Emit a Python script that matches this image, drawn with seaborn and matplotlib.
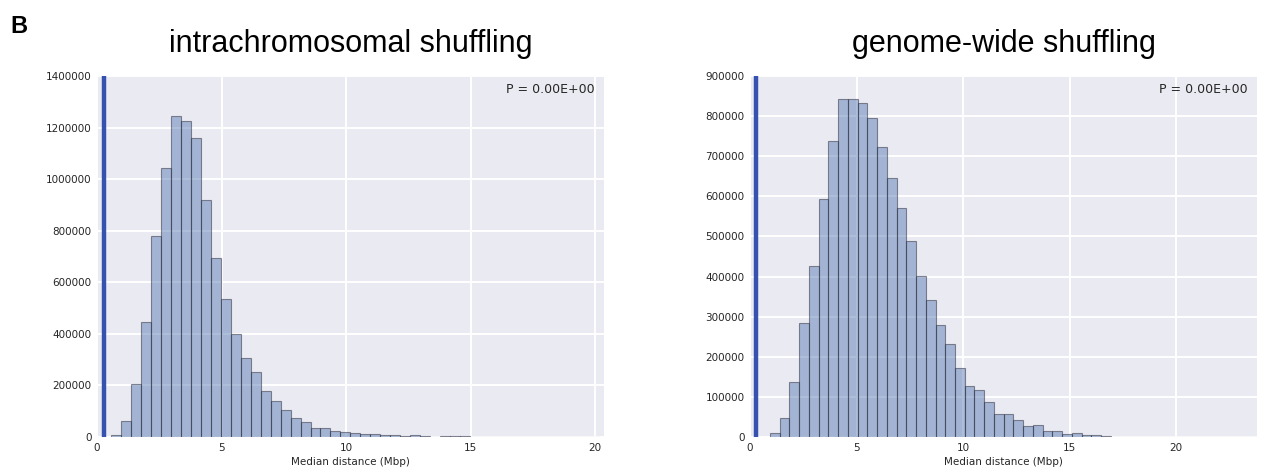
import numpy as np
import pandas as pd
import seaborn as sns
import matplotlib.pyplot as plt

# histogram counts (bins of equal width)
intra_counts = [7000, 61000, 206000, 446000, 781000, 1045000, 1243000, 1224000,
                1161000, 920000, 693000, 537000, 398000, 307000, 253000, 180000,
                141000, 104000, 75000, 57000, 35000, 35000, 23000, 19500,
                15600, 11700, 11700, 7800, 7800, 3900, 6500, 2600,
                1300, 3900, 2600, 4000, 1500, 1200, 1000, 900,
                800, 700, 600, 600, 500, 400, 400, 300, 300]
intra_start, intra_width = 0.57, 0.40

genome_counts = [10000, 47500, 137500, 283000, 427000, 594000, 737000, 842000,
                 842000, 833000, 795000, 723000, 646000, 572000, 487500, 402000,
                 342500, 280000, 231000, 171000, 128000, 116000, 88000, 57000,
                 57000, 41700, 26700, 29000, 15000, 15000, 7500, 10000,
                 5000, 4200, 1700, 800, 1200, 1000, 900, 700,
                 600, 500, 500, 400, 300, 300, 200, 200, 150, 100]
genome_start, genome_width = 0.94, 0.457

observed = [0.27, 0.27]
titles = ['intrachromosomal shuffling', 'genome-wide shuffling']
p_labels = ['P = 0.00E+00', 'P = 0.00E+00']
xlims = [(0, 20.35), (0, 23.8)]
ylims = [(0, 1400000), (0, 900000)]
yticks = [np.arange(0, 1400001, 200000), np.arange(0, 900001, 100000)]
xticks = [[0, 5, 10, 15, 20], [0, 5, 10, 15, 20]]

sns.set_style('darkgrid', {'axes.facecolor': '#EAEAF2', 'grid.color': 'white'})
plt.rcParams['font.family'] = 'DejaVu Sans'
plt.rcParams['xtick.color'] = '.15'
plt.rcParams['ytick.color'] = '.15'

fig = plt.figure(figsize=(12.65, 4.74), dpi=100)
W, H = 1265, 474
ax_l = fig.add_axes([97 / W, (H - 437) / H, 507 / W, 361 / H])
ax_r = fig.add_axes([750 / W, (H - 437) / H, 507 / W, 361 / H])

panels = [(ax_l, intra_counts, intra_start, intra_width),
          (ax_r, genome_counts, genome_start, genome_width)]

for i, (ax, counts, start, width) in enumerate(panels):
    edges = start + width * np.arange(len(counts) + 1)
    df = pd.DataFrame({'dist': (edges[:-1] + edges[1:]) / 2, 'n': counts})
    sns.histplot(data=df, x='dist', weights='n', bins=list(edges), ax=ax,
                 color='#4C72B0', alpha=0.45,
                 edgecolor=(0.15, 0.15, 0.2, 0.5), linewidth=0.8)
    ax.axvline(observed[i], color='#3652b0', lw=3.2)
    ax.set_xlim(*xlims[i])
    ax.set_ylim(*ylims[i])
    ax.set_yticks(yticks[i])
    ax.set_xticks(xticks[i])
    ax.ticklabel_format(axis='y', style='plain', useOffset=False)
    ax.tick_params(labelsize=7.5, length=0, pad=4)
    ax.grid(True, color='white', lw=1.4)
    ax.set_ylabel('')
    ax.set_xlabel('Median distance (Mbp)', fontsize=7.5, color='.15', labelpad=3)
    ax.set_title(titles[i], fontsize=22, family='Liberation Sans',
                 color='black', pad=17)
    ax.text(0.982, 0.962, p_labels[i], transform=ax.transAxes, ha='right',
            va='center', fontsize=9, color='.15')
    for s in ax.spines.values():
        s.set_visible(False)

fig.text(10 / W, 1 - 33 / H, 'B', fontsize=17, fontweight='bold',
         family='Liberation Sans', color='black')

fig.savefig('out.png', dpi=100)
